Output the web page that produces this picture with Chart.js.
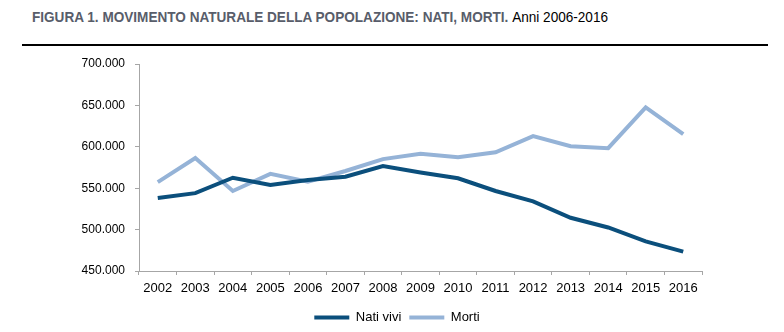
<!DOCTYPE html>
<html>
<head>
<meta charset="utf-8">
<script src="https://cdn.jsdelivr.net/npm/chart.js@4.4.1/dist/chart.umd.min.js"></script>
<style>
  html, body { margin: 0; padding: 0; background: #fff; }
  body { width: 784px; height: 332px; position: relative; overflow: hidden; }
  #title {
    position: absolute; left: 32px; top: 8px;
    font-family: "Liberation Sans", Arial, sans-serif;
    font-size: 15px; color: #585d6a; font-weight: bold; white-space: nowrap;
    transform: scaleX(0.905); transform-origin: 0 0;
  }
  #title span { font-weight: normal; color: #000; }
  #rule { position: absolute; left: 22px; top: 44px; width: 746px; height: 2px; background: #000; }
  #wrap { position: absolute; left: 0; top: 0; width: 784px; height: 332px; }
</style>
</head>
<body>
<div id="title">FIGURA 1. MOVIMENTO NATURALE DELLA POPOLAZIONE: NATI, MORTI. <span>Anni 2006-2016</span></div>
<div id="rule"></div>
<div id="wrap"><canvas id="chart"></canvas></div>
<script>
// data
const years = ['2002', '2003', '2004', '2005', '2006', '2007', '2008', '2009',
               '2010', '2011', '2012', '2013', '2014', '2015', '2016'];
const natiVivi = [538198, 544063, 562599, 554022, 560010, 563933, 576659, 568857,
                  561944, 546607, 534186, 514308, 502596, 485780, 473438];
const morti = [557393, 586468, 546658, 567304, 557892, 570801, 585126, 591663,
               587488, 593402, 612883, 600744, 598364, 647571, 615261];
const yTickValues = [450000, 500000, 550000, 600000, 650000, 700000];

const fontFamily = '"Liberation Sans", Arial, sans-serif';

function formatIt(v) {
    return String(v).replace(/\B(?=(\d{3})+(?!\d))/g, '.');
}

// legend sits a bit right of and below where chart.js centres it
const nudgeLegend = {
    id: 'nudgeLegend',
    afterLayout(chart) {
        const lg = chart.legend;
        lg.left += 40; lg.right += 40;
        lg.top += 2; lg.bottom += 2;
    }
};

const ctx = document.getElementById('chart').getContext('2d');
new Chart(ctx, {
    type: 'line',
    data: {
        labels: years,
        datasets: [
            {
                label: 'Nati vivi',
                data: natiVivi,
                borderColor: '#0b4f7c',
                backgroundColor: '#0b4f7c',
                borderWidth: 4,
                pointRadius: 0,
                tension: 0
            },
            {
                label: 'Morti',
                data: morti,
                borderColor: '#95b3d7',
                backgroundColor: '#95b3d7',
                borderWidth: 4,
                pointRadius: 0,
                tension: 0
            }
        ]
    },
    options: {
        responsive: true,
        maintainAspectRatio: false,
        animation: false,
        layout: { padding: { left: 12, right: 82, top: 64, bottom: 0 } },
        plugins: {
            legend: {
                position: 'bottom',
                labels: {
                    usePointStyle: true,
                    pointStyle: 'line',
                    pointStyleWidth: 35,
                    padding: 8,
                    color: '#000',
                    font: { family: fontFamily, size: 13 }
                }
            },
            tooltip: { enabled: false }
        },
        scales: {
            x: {
                offset: true,
                grid: {
                    offset: true,
                    drawOnChartArea: false,
                    drawTicks: true,
                    tickLength: 4,
                    color: '#a6a6a6'
                },
                border: { color: '#a6a6a6', width: 1 },
                ticks: {
                    color: '#000',
                    padding: 6,
                    maxRotation: 0,
                    autoSkip: false,
                    font: { family: fontFamily, size: 13 }
                },
                afterFit: (scale) => { scale.height = 30; }
            },
            y: {
                min: 450000,
                max: 700000,
                afterBuildTicks: (scale) => {
                    scale.ticks = yTickValues.map(v => ({ value: v }));
                },
                grid: {
                    drawOnChartArea: false,
                    drawTicks: true,
                    tickLength: 4,
                    color: '#a6a6a6'
                },
                border: { color: '#a6a6a6', width: 1 },
                ticks: {
                    color: '#000',
                    padding: 10,
                    font: { family: fontFamily, size: 12 },
                    callback: (v) => formatIt(v)
                },
                afterFit: (scale) => { scale.width = 127; }
            }
        }
    },
    plugins: [nudgeLegend]
});
</script>
</body>
</html>
